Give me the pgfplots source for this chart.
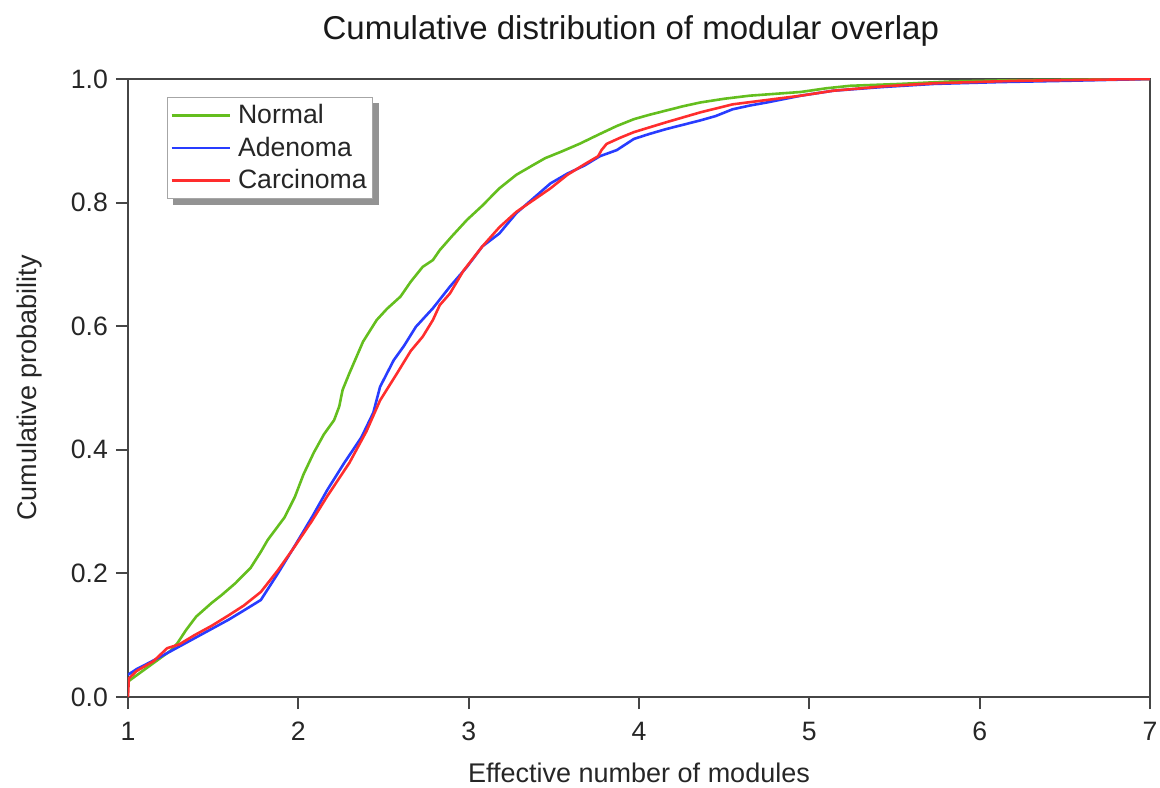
\documentclass[border=0pt]{standalone}
\usepackage{pgfplots}
\pgfplotsset{compat=1.18}
\usepackage{fontspec}
\setmainfont{Liberation Sans}
\usetikzlibrary{calc}
\pgfdeclarelayer{bgshadow}
\pgfsetlayers{bgshadow,main}
\definecolor{cgreen}{RGB}{100,190,30}
\definecolor{cblue}{RGB}{40,60,255}
\definecolor{cred}{RGB}{255,45,45}
\definecolor{axgray}{RGB}{70,70,70}
\begin{document}
\begin{tikzpicture}
\begin{axis}[
  name=ax,
  scale only axis,
  width=511pt, height=309pt,
  xmin=1, xmax=7, ymin=0, ymax=1,
  xtick={1,2,3,4,5,6,7},
  ytick={0,0.2,0.4,0.6,0.8,1.0},
  yticklabel style={/pgf/number format/fixed, /pgf/number format/fixed zerofill, /pgf/number format/precision=1, xshift=-0.5pt},
  /pgf/number format/assume math mode=true,
  xtick pos=bottom, ytick pos=left,
  tick align=outside,
  major tick length=6pt,
  tick style={axgray, line width=1pt},
  axis line style={axgray, line width=1.4pt},
  ticklabel style={font=\fontsize{13.3}{16}\selectfont, text=black!85},
  xticklabel style={yshift=-3pt},
  xlabel={Effective number of modules},
  ylabel={Cumulative probability},
  label style={font=\fontsize{13.5}{16}\selectfont, text=black!85},
  xlabel style={at={(axis description cs:0.5,-0.139)}, anchor=base},
  ylabel style={at={(axis description cs:-0.09,0.5)}, anchor=base},
  title={Cumulative distribution of modular overlap},
  title style={font=\fontsize{16.5}{20}\selectfont, text=black!90, at={(axis description cs:0.492,1)}, anchor=base, yshift=13.5pt},
  legend cell align=left,
  legend image code/.code={\draw[#1] (0pt,0pt) -- (29pt,0pt);},
  legend style={at={(rel axis cs:0.038,0.971)}, anchor=north west, name=leg,
    draw=gray!70, line width=0.6pt, fill=white,
    font=\fontsize{13.3}{16}\selectfont, text=black!85,
    inner xsep=1.5pt, inner ysep=2pt,
    row sep=2pt, column sep=2pt,
    nodes={inner xsep=1.5pt, inner ysep=1.5pt}},
  every axis plot/.append style={line width=1.3pt, line join=round},
]
\addplot[cgreen] coordinates {
(1.00,0.025) (1.05,0.035) (1.10,0.045) (1.15,0.055) (1.20,0.065) (1.25,0.075)
(1.29,0.087) (1.34,0.108) (1.40,0.130) (1.49,0.152) (1.55,0.165) (1.63,0.184)
(1.72,0.209) (1.78,0.235) (1.82,0.254) (1.92,0.291) (1.98,0.324) (2.03,0.360)
(2.09,0.395) (2.15,0.425) (2.21,0.448) (2.24,0.470) (2.26,0.497) (2.30,0.524)
(2.38,0.575) (2.46,0.610) (2.52,0.628) (2.60,0.648) (2.66,0.672) (2.73,0.696)
(2.79,0.707) (2.83,0.723) (2.90,0.745) (2.99,0.772) (3.08,0.795) (3.18,0.823)
(3.28,0.845) (3.38,0.861) (3.45,0.872) (3.54,0.882) (3.65,0.895) (3.77,0.911)
(3.87,0.924) (3.97,0.935) (4.06,0.942) (4.16,0.949) (4.26,0.956) (4.36,0.962)
(4.50,0.968) (4.65,0.973) (4.80,0.976) (4.95,0.979) (5.10,0.985) (5.24,0.989)
(5.53,0.992) (5.83,0.996) (6.20,0.998) (6.60,0.999) (7.00,1.000)
};
\addlegendentry{Normal}
\addplot[cblue] coordinates {
(1.00,0.036) (1.05,0.045) (1.10,0.052) (1.19,0.065) (1.29,0.080) (1.39,0.095)
(1.49,0.110) (1.59,0.125) (1.68,0.140) (1.78,0.157) (1.88,0.200) (1.98,0.245)
(2.08,0.291) (2.17,0.335) (2.27,0.379) (2.37,0.420) (2.44,0.460) (2.48,0.502)
(2.56,0.545) (2.62,0.568) (2.69,0.599) (2.79,0.629) (2.89,0.664) (2.99,0.696)
(3.08,0.729) (3.18,0.750) (3.28,0.783) (3.38,0.807) (3.48,0.831) (3.58,0.847)
(3.68,0.860) (3.77,0.875) (3.87,0.885) (3.97,0.903) (4.06,0.911) (4.16,0.919)
(4.26,0.926) (4.36,0.933) (4.45,0.940) (4.55,0.951) (4.65,0.957) (4.75,0.962)
(4.95,0.973) (5.14,0.981) (5.43,0.987) (5.73,0.992) (6.12,0.995) (6.50,0.997)
(7.00,1.000)
};
\addlegendentry{Adenoma}
\addplot[cred] coordinates {
(1.00,0.000) (1.005,0.030) (1.05,0.042) (1.10,0.050) (1.15,0.058) (1.23,0.079)
(1.30,0.085) (1.39,0.100) (1.49,0.115) (1.59,0.132) (1.68,0.148) (1.78,0.170)
(1.88,0.205) (1.97,0.240) (2.08,0.285) (2.17,0.325) (2.30,0.379) (2.40,0.430)
(2.48,0.480) (2.58,0.524) (2.66,0.560) (2.73,0.583) (2.79,0.610) (2.83,0.634)
(2.89,0.653) (2.97,0.690) (3.08,0.729) (3.18,0.760) (3.28,0.785) (3.38,0.804)
(3.48,0.823) (3.58,0.845) (3.68,0.862) (3.76,0.875) (3.78,0.885) (3.81,0.895)
(3.89,0.905) (3.97,0.914) (4.16,0.930) (4.36,0.946) (4.55,0.959) (4.75,0.966)
(4.95,0.973) (5.14,0.981) (5.43,0.988) (5.73,0.993) (6.20,0.997) (7.00,1.000)
};
\addlegendentry{Carcinoma}
\end{axis}
\begin{pgfonlayer}{bgshadow}
\fill[gray!85] ($(leg.south west)+(3pt,-3pt)$) rectangle ($(leg.north east)+(3pt,-3pt)$);
\end{pgfonlayer}
\pgfresetboundingbox
\path[use as bounding box] ($(ax.south west)+(-64pt,-45pt)$) rectangle ($(ax.north east)+(5pt,39.5pt)$);
\end{tikzpicture}
\end{document}
